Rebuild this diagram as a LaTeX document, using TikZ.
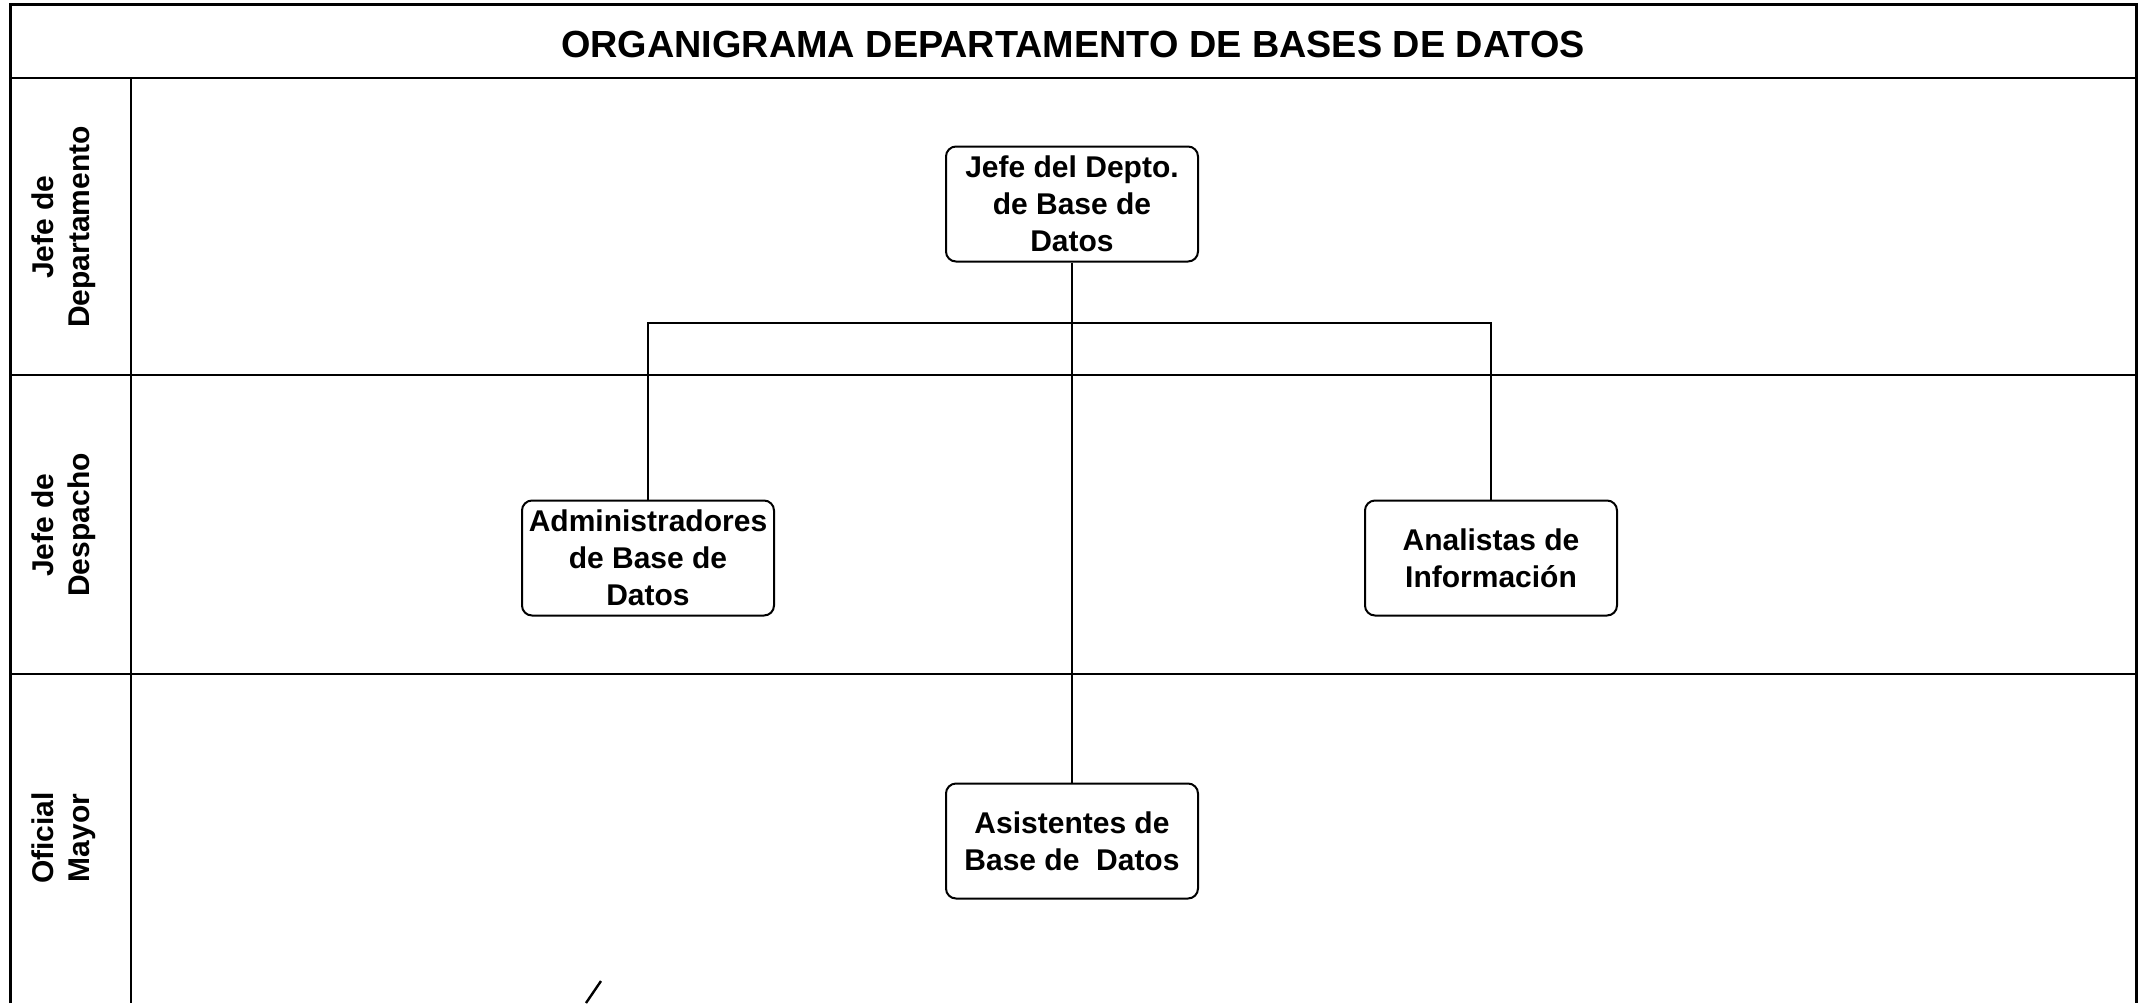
\documentclass[tikz,border=0pt]{standalone}
\usepackage{fontspec}
\setmainfont{Liberation Sans}
\begin{document}
\begin{tikzpicture}[x=0.5pt,y=-0.5pt,
  frame/.style={line width=1.5pt},
  grid/.style={line width=1.2pt},
  conn/.style={line width=1pt},
  unit/.style={draw,line width=1pt,rounded corners=5pt,minimum width=126pt,minimum height=57.5pt,align=center,inner sep=1pt,font=\fontsize{15}{18.5}\selectfont\bfseries},
  rowlabel/.style={rotate=90,align=center,font=\fontsize{15}{18}\selectfont\bfseries},
  titlefont/.style={font=\fontsize{18.9}{22}\selectfont\bfseries}]
\useasboundingbox (0,0) rectangle (2144,1003);
\fill[white] (0,0) rectangle (2144,1003);
% frame
\draw[frame] (10,1003) -- (10,4) -- (2136,4) -- (2136,1003);
\draw[grid] (10,78) -- (2136,78);
\draw[grid] (10,375) -- (2136,375);
\draw[grid] (10,674) -- (2136,674);
\draw[grid] (131,78) -- (131,1003);
% title
\node[titlefont] (title) at (1073,44) {ORGANIGRAMA DEPARTAMENTO DE BASES DE DATOS};
% row labels
\node[rowlabel] (r1) at (64,227) {Jefe de\\Departamento};
\node[rowlabel] (r2) at (64,525) {Jefe de\\Despacho};
\node[rowlabel] (r3) at (64,838) {Oficial\\Mayor};
% units
\node[unit] (jefe) at (1072,204) {Jefe del Depto.\\de Base de\\Datos};
\node[unit] (admin) at (648,558) {Administradores\\de Base de\\Datos};
\node[unit] (anal) at (1491,558) {Analistas de\\Información};
\node[unit] (asis) at (1072,841) {Asistentes de\\Base de\ \ Datos};
% connectors
\coordinate (bus) at (1072,323);
\draw[conn] (jefe.south) -- (asis.north);
\draw[conn] (admin.north) |- (bus) -| (anal.north);
% stray mark
\coordinate (s1) at (601,981);
\coordinate (s2) at (586,1003);
\draw[line width=1.2pt] (s1) -- (s2);
\end{tikzpicture}
\end{document}
